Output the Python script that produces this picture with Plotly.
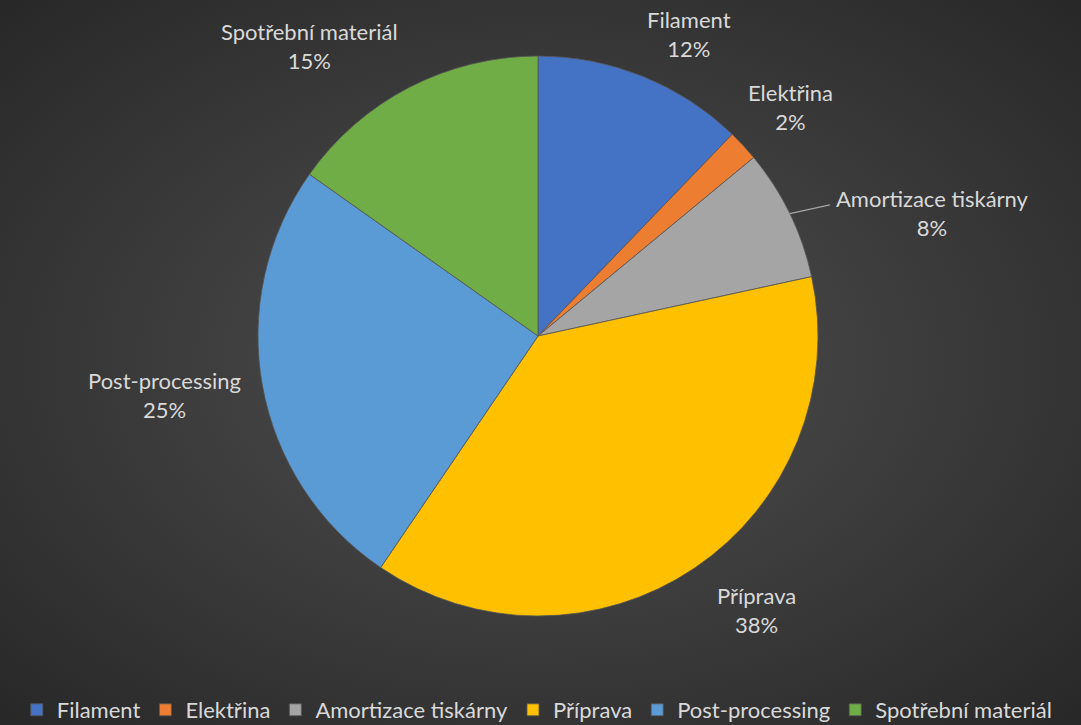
import math
import base64
import plotly.graph_objects as go

# ---- data ----
categories = ["Filament", "Elektřina", "Amortizace tiskárny", "Příprava", "Post-processing", "Spotřební materiál"]
shares = [12.2, 1.8, 7.6, 37.9, 25.3, 15.2]
colors = ["#4472C4", "#ED7D31", "#A5A5A5", "#FFC000", "#5B9BD5", "#70AD47"]

# ---- layout constants ----
W, H = 1081, 725
PIE_LEFT, PIE_RIGHT, PIE_TOP, PIE_BOTTOM = 258, 818, 56, 616
FONT = "Lato"
TEXT_COLOR = "#d9d9d9"
LABEL_SIZE = 22
LABEL_GAP = 20
BASELINE_SHIFT = 6
label_nudge = {"Amortizace tiskárny": (26, 2), "Elektřina": (-12, -1), "Příprava": (9, -5), "Filament": (-5, 0)}
leader_labels = {"Amortizace tiskárny"}

cx = (PIE_LEFT + PIE_RIGHT) / 2
cy = (PIE_TOP + PIE_BOTTOM) / 2
R = min(PIE_RIGHT - PIE_LEFT, PIE_BOTTOM - PIE_TOP) / 2


def px_to_paper(x, y):
    return x / W, 1 - y / H


svg = f"""<svg xmlns='http://www.w3.org/2000/svg' width='{W}' height='{H}' viewBox='0 0 {W} {H}'>
<defs><radialGradient id='g' cx='50%' cy='50%' r='75%'>
<stop offset='0%' stop-color='#505050'/><stop offset='100%' stop-color='#252525'/>
</radialGradient></defs><rect width='{W}' height='{H}' fill='url(#g)'/></svg>"""
bg_uri = "data:image/svg+xml;base64," + base64.b64encode(svg.encode()).decode()

fig = go.Figure()
fig.add_trace(go.Pie(
    labels=categories,
    values=shares,
    sort=False,
    direction="clockwise",
    rotation=0,
    textinfo="none",
    marker=dict(colors=colors, line=dict(color="#555555", width=0.8)),
    domain=dict(x=[PIE_LEFT / W, PIE_RIGHT / W], y=[1 - PIE_BOTTOM / H, 1 - PIE_TOP / H]),
    showlegend=True,
))

total = sum(shares)
annotations = []
shapes = []
cum = 0.0
for name, v in zip(categories, shares):
    mid = (cum + v / 2) / total * 2 * math.pi
    cum += v
    s, c = math.sin(mid), math.cos(mid)
    ax = cx + (R + LABEL_GAP) * s
    ay = cy - (R + LABEL_GAP) * c
    xanchor = "left" if s > 0.3 else ("right" if s < -0.3 else "center")
    yanchor = "bottom" if c > 0.5 else ("top" if c < -0.5 else "middle")
    dx, dy = label_nudge.get(name, (0, 0))
    ax += dx
    ay += dy + (BASELINE_SHIFT if yanchor != "top" else 0)
    pct = round(v / total * 100)
    px, py = px_to_paper(ax, ay)
    annotations.append(dict(
        x=px, y=py, xref="paper", yref="paper", xanchor=xanchor, yanchor=yanchor,
        text=f"{name}<br>{pct}%", showarrow=False, align="center",
        font=dict(family=FONT, size=LABEL_SIZE, color=TEXT_COLOR),
    ))
    if name in leader_labels:
        ex, ey = cx + R * s, cy - R * c
        lx, ly = ax - 4, ay - 8
        x0, y0 = px_to_paper(ex, ey)
        x1, y1 = px_to_paper(lx, ly)
        shapes.append(dict(type="line", xref="paper", yref="paper", x0=x0, y0=y0, x1=x1, y1=y1,
                           line=dict(color="#a6a6a6", width=1.2)))

fig.update_layout(
    width=W, height=H,
    margin=dict(l=0, r=0, t=0, b=0, autoexpand=False),
    paper_bgcolor="#3a3a3a",
    plot_bgcolor="rgba(0,0,0,0)",
    images=[dict(source=bg_uri, xref="paper", yref="paper", x=0, y=1, sizex=1, sizey=1,
                 xanchor="left", yanchor="top", sizing="stretch", layer="below")],
    annotations=annotations,
    shapes=shapes,
    legend=dict(orientation="h", x=0.497, xanchor="center", y=1 - 710 / H, yanchor="middle",
                font=dict(family=FONT, size=LABEL_SIZE, color=TEXT_COLOR),
                bgcolor="rgba(0,0,0,0)", itemclick=False),
    font=dict(family=FONT, color=TEXT_COLOR),
)

fig.write_html("out.html", config={"displayModeBar": False},
               post_script="document.body.style.margin='0';document.body.style.background='#252525';")
